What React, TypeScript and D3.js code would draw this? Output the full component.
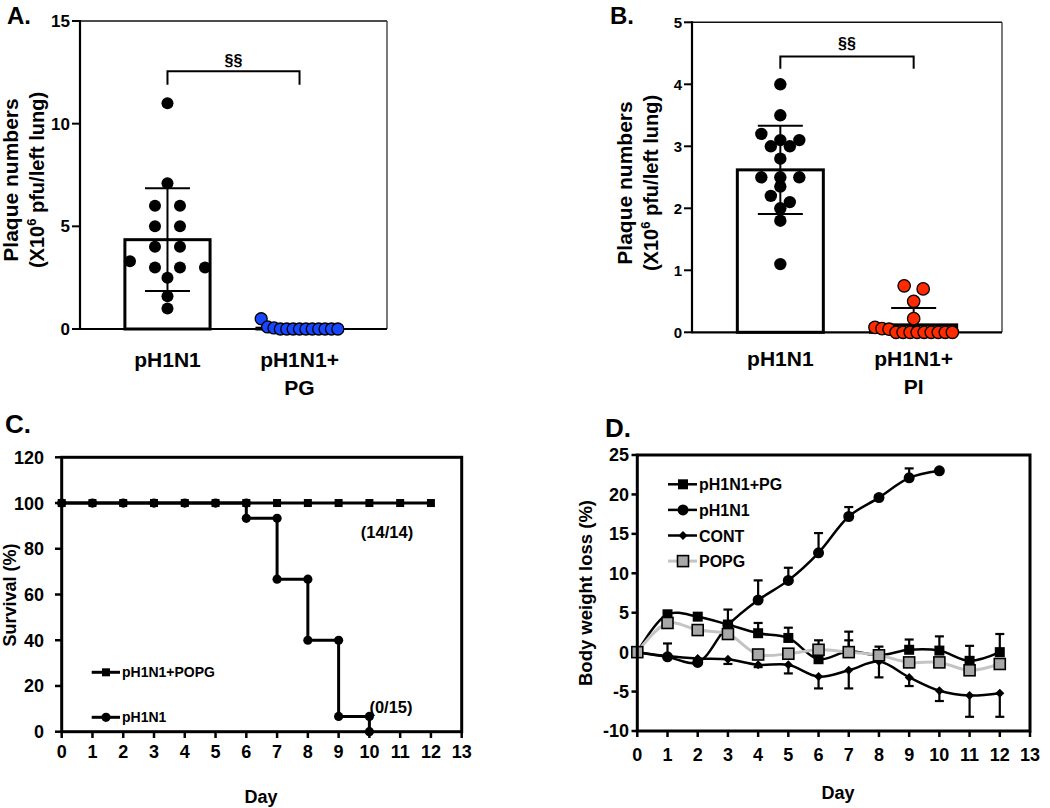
import React from 'react';
import * as d3 from 'd3';

const FONT = '"Liberation Sans", Arial, Helvetica, sans-serif';

// ---- Panel A: lung plaque numbers, PG treatment ----
const labelsA = ['pH1N1', 'pH1N1+\nPG'];
const dotsA_H1N1 = [11, 7.1, 6, 6, 5, 5, 4, 4, 3.3, 3, 3, 3, 2.5, 1.6, 1.0];
const dotsA_PG = [0.5, 0.1, 0.05, 0, 0, 0, 0, 0, 0, 0, 0, 0, 0];
const meanA = [4.35, 0.04];
const sdA = [2.5, 0.15];
const ticksA = [0, 5, 10, 15];

// ---- Panel B: lung plaque numbers, PI treatment ----
const labelsB = ['pH1N1', 'pH1N1+\nPI'];
const dotsB_H1N1 = [4.0, 3.5, 3.2, 3.1, 3.1, 3.0, 3.0, 2.8, 2.5, 2.5, 2.5, 2.35, 2.2, 2.1, 2.0, 1.8, 1.1];
const dotsB_PI = [0.75, 0.7, 0.5, 0.22, 0.08, 0.06, 0.05, 0, 0, 0, 0, 0, 0, 0, 0, 0];
const meanB = [2.62, 0.12];
const sdB = [0.71, 0.27];
const ticksB = [0, 1, 2, 3, 4, 5];

// ---- Panel C: survival ----
const dayTicks = [0, 1, 2, 3, 4, 5, 6, 7, 8, 9, 10, 11, 12, 13];
const survDaysPOPG = [0, 1, 2, 3, 4, 5, 6, 7, 8, 9, 10, 11, 12];
const survPOPG = [100, 100, 100, 100, 100, 100, 100, 100, 100, 100, 100, 100, 100];
const survDaysH1N1 = [0, 1, 2, 3, 4, 5, 6, 7, 8, 9, 10];
const survH1N1 = [100, 100, 100, 100, 100, 100, 93.3, 66.7, 40, 6.7, 0];
const survTicks = [0, 20, 40, 60, 80, 100, 120];

// ---- Panel D: body weight loss ----
const wDays = [0, 1, 2, 3, 4, 5, 6, 7, 8, 9, 10, 11, 12];
const wPG = [0, 4.8, 4.5, 3.5, 2.4, 1.8, -0.9, 0.1, -0.4, 0.3, 0.2, -1.1, 0.0];
const ePG = [0, 0.3, 0.4, 1.9, 1.3, 1.3, 2.4, 2.5, 1.1, 1.3, 1.8, 1.9, 2.3];
const wDaysH1N1 = [0, 1, 2, 3, 4, 5, 6, 7, 8, 9, 10];
const wH1N1 = [0, -0.6, -1.3, 3.4, 6.6, 9.1, 12.6, 17.2, 19.6, 22.1, 23.0];
const eH1N1 = [0, 1.7, 0.3, 0.5, 2.5, 1.6, 2.5, 1.2, 0.3, 1.2, 0];
const wCONT = [0, -0.5, -0.8, -0.9, -1.6, -1.6, -3.1, -2.3, -1.2, -3.2, -4.9, -5.5, -5.2];
const eCONT = [0, 0.2, 0.3, 0.6, 0.3, 1.1, 1.5, 2.3, 2.0, 1.1, 1.3, 2.7, 3.0];
const wPOPG = [0, 3.7, 2.8, 2.3, -0.3, -0.2, 0.3, 0.0, -0.4, -1.3, -1.3, -2.3, -1.5];
const ePOPG = [0, 0, 0, 0, 0, 0, 0, 1.5, 0, 0, 0, 0, 0];
const weightTicks = [-10, -5, 0, 5, 10, 15, 20, 25];

// simple Prism-like column scatter: rows of close values are spread around the centre
function swarm(values: number[], y: (v: number) => number, binPx: number, step: number, maxHalf: number) {
  const sorted = [...values].sort((a, b) => b - a);
  const rows: number[][] = [];
  sorted.forEach(v => {
    const row = rows[rows.length - 1];
    if (row && y(v) - y(row[0]) <= binPx) row.push(v);
    else rows.push([v]);
  });
  const out: { v: number; dx: number }[] = [];
  rows.forEach(row => {
    const n = row.length;
    const sp = n > 1 ? Math.min(step, (2 * maxHalf) / (n - 1)) : 0;
    row.forEach((v, i) => out.push({ v, dx: (i - (n - 1) / 2) * sp }));
  });
  return out;
}

interface Group { label: string; values: number[]; mean: number; sd: number; fill: string; stroke: string }

interface DotBarProps {
  left: number; right: number; top: number; bottom: number; max: number;
  ticks: number[]; tickSize: number; groups: Group[];
  binPx: number; step: number; r: number;
  bracket: [number, number]; sectionY: number;
  yl1: number; yl2: number; ylMid: number;
  catY: number; letter: string; letterX: number;
}

const DotBarPanel: React.FC<DotBarProps> = p => {
  const y = d3.scaleLinear().domain([0, p.max]).range([p.bottom, p.top]);
  const x = d3.scaleBand<string>().domain(p.groups.map(g => g.label))
    .range([p.left, p.right]).paddingInner(0.355).paddingOuter(0.34);
  const bw = x.bandwidth();
  const cx = (g: Group) => (x(g.label) as number) + bw / 2;
  const c0 = cx(p.groups[0]);
  const c1 = cx(p.groups[1]);
  return (
    <g>
      <text x={p.letterX} y={24} fontSize={24} fontWeight="bold">{p.letter}</text>
      {/* frame */}
      <line x1={p.left} x2={p.right} y1={p.top} y2={p.top} stroke="#111" strokeWidth={1.5} />
      <line x1={p.right} x2={p.right} y1={p.top} y2={p.bottom} stroke="#333" strokeWidth={1.3} />
      {/* bars */}
      {p.groups.map(g => (
        <rect key={g.label} x={x(g.label)} y={y(g.mean)} width={bw} height={p.bottom - y(g.mean)}
          fill="white" stroke="black" strokeWidth={3} />
      ))}
      {/* error bars */}
      {p.groups.map(g => {
        const c = cx(g);
        const lo = Math.max(0, g.mean - g.sd);
        return (
          <g key={g.label} stroke="black" strokeWidth={2}>
            <line x1={c} x2={c} y1={y(g.mean + g.sd)} y2={y(lo)} />
            <line x1={c - 22.5} x2={c + 22.5} y1={y(g.mean + g.sd)} y2={y(g.mean + g.sd)} />
            {g.mean - g.sd > 0 && <line x1={c - 22.5} x2={c + 22.5} y1={y(lo)} y2={y(lo)} />}
          </g>
        );
      })}
      {/* axes */}
      <line x1={p.left} x2={p.right} y1={p.bottom} y2={p.bottom} stroke="black" strokeWidth={2.2} />
      <line x1={p.left} x2={p.left} y1={p.top - 1} y2={p.bottom + 1} stroke="black" strokeWidth={2.2} />
      {p.ticks.map(t => (
        <g key={t}>
          <line x1={p.left - 8} x2={p.left} y1={y(t)} y2={y(t)} stroke="black" strokeWidth={2} />
          <text x={p.left - 10} y={y(t)} dy="0.36em" textAnchor="end" fontSize={p.tickSize} fontWeight="bold">{t}</text>
        </g>
      ))}
      {/* dots */}
      {p.groups.map(g => {
        const c = cx(g);
        return swarm(g.values, y, p.binPx, p.step, bw * 0.45).map((d, i) => (
          <circle key={g.label + i} cx={c + d.dx} cy={y(d.v)} r={p.r} fill={g.fill}
            stroke={g.stroke} strokeWidth={g.stroke === 'none' ? 0 : 1.3} />
        ));
      })}
      {/* significance bracket */}
      <path d={`M${c0},${y(p.bracket[1])}V${y(p.bracket[0])}H${c1}V${y(p.bracket[1])}`}
        fill="none" stroke="black" strokeWidth={2} />
      <text x={(c0 + c1) / 2} y={p.sectionY} textAnchor="middle" fontSize={16} fontWeight="bold">§§</text>
      {/* category labels */}
      {p.groups.map(g => (
        <text key={g.label} x={cx(g)} y={p.catY} textAnchor="middle" fontSize={21} fontWeight="bold">
          {g.label.split('\n').map((s, i) => (
            <tspan key={i} x={cx(g)} dy={i === 0 ? 0 : 28}>{s}</tspan>
          ))}
        </text>
      ))}
      {/* y label */}
      <text transform={`translate(${p.yl1},${p.ylMid}) rotate(-90)`} textAnchor="middle" fontSize={21} fontWeight="bold">
        Plaque numbers
      </text>
      <text transform={`translate(${p.yl2},${p.ylMid}) rotate(-90)`} textAnchor="middle" fontSize={20} fontWeight="bold">
        <tspan>(X10</tspan>
        <tspan fontSize={13} dy={-8}>6</tspan>
        <tspan dy={8}> pfu/left lung)</tspan>
      </text>
    </g>
  );
};

const App: React.FC = () => {
  // ---- panel C scales ----
  const xC = d3.scaleLinear().domain([0, 13]).range([61.7, 461.7]);
  const yC = d3.scaleLinear().domain([0, 120]).range([731.7, 457.3]);
  const popgPts = survDaysPOPG.map((d, i) => [d, survPOPG[i]] as [number, number]);
  const h1n1Pts = survDaysH1N1.map((d, i) => [d, survH1N1[i]] as [number, number]);
  const stepLine = d3.line<[number, number]>().x(d => xC(d[0])).y(d => yC(d[1])).curve(d3.curveStepAfter);
  const straight = d3.line<[number, number]>().x(d => xC(d[0])).y(d => yC(d[1]));
  // markers at both ends of each drop
  const h1n1Marks: [number, number][] = [];
  h1n1Pts.forEach((pt, i) => {
    h1n1Marks.push(pt);
    if (i > 0 && h1n1Pts[i - 1][1] !== pt[1]) h1n1Marks.push([pt[0], h1n1Pts[i - 1][1]]);
  });

  // ---- panel D scales ----
  const xD = d3.scaleLinear().domain([0, 13]).range([637.3, 1030]);
  const yD = d3.scaleLinear().domain([-10, 25]).range([731, 455]);
  const smooth = d3.line<[number, number]>().x(d => xD(d[0])).y(d => yD(d[1])).curve(d3.curveCatmullRom.alpha(0.5));
  const series = [
    { name: 'pH1N1+PG', days: wDays, v: wPG, e: ePG, dir: 1, color: 'black', lw: 2.5, mark: 'sq' },
    { name: 'pH1N1', days: wDaysH1N1, v: wH1N1, e: eH1N1, dir: 1, color: 'black', lw: 2.5, mark: 'circle' },
    { name: 'CONT', days: wDays, v: wCONT, e: eCONT, dir: -1, color: 'black', lw: 2.5, mark: 'diamond' },
    { name: 'POPG', days: wDays, v: wPOPG, e: ePOPG, dir: 1, color: '#c4c4c4', lw: 3, mark: 'graysq' },
  ];
  const marker = (kind: string, x: number, y: number, key: string) => {
    if (kind === 'sq') return <rect key={key} x={x - 5} y={y - 5} width={10} height={10} fill="black" />;
    if (kind === 'circle') return <circle key={key} cx={x} cy={y} r={5.5} fill="black" />;
    if (kind === 'diamond') return <path key={key} d={`M${x},${y - 4.5}L${x + 4.5},${y}L${x},${y + 4.5}L${x - 4.5},${y}Z`} fill="black" />;
    return <rect key={key} x={x - 5.5} y={y - 5.5} width={11} height={11} fill="#a8a8a8" stroke="black" strokeWidth={1.6} />;
  };

  return (
    <div style={{ position: 'absolute', left: 0, top: 0 }}>
      <svg width={1050} height={808} style={{ display: 'block', fontFamily: FONT, background: 'white' }}>
        <DotBarPanel left={80} right={387} top={21} bottom={329} max={15} ticks={ticksA} tickSize={17}
          groups={[
            { label: labelsA[0], values: dotsA_H1N1, mean: meanA[0], sd: sdA[0], fill: 'black', stroke: 'none' },
            { label: labelsA[1], values: dotsA_PG, mean: meanA[1], sd: sdA[1], fill: '#1747ff', stroke: 'black' },
          ]}
          binPx={12} step={25} r={6} bracket={[12.55, 11.9]} sectionY={66}
          yl1={18} yl2={44} ylMid={180} catY={367} letter="A." letterX={7} />
        <DotBarPanel left={692} right={1002} top={22.3} bottom={332.3} max={5} ticks={ticksB} tickSize={15}
          groups={[
            { label: labelsB[0], values: dotsB_H1N1, mean: meanB[0], sd: sdB[0], fill: 'black', stroke: 'none' },
            { label: labelsB[1], values: dotsB_PI, mean: meanB[1], sd: sdB[1], fill: '#ff2a00', stroke: 'black' },
          ]}
          binPx={8} step={19} r={6.2} bracket={[4.45, 4.25]} sectionY={49}
          yl1={632} yl2={658} ylMid={183} catY={366} letter="B." letterX={610} />

        {/* ---------- Panel C ---------- */}
        <g>
          <text x={5} y={433} fontSize={26} fontWeight="bold">C.</text>
          {survTicks.map(t => (
            <g key={t}>
              <line x1={55} x2={61.7} y1={yC(t)} y2={yC(t)} stroke="black" strokeWidth={2.5} />
              <text x={44} y={yC(t)} dy="0.36em" textAnchor="end" fontSize={18} fontWeight="bold">{t}</text>
            </g>
          ))}
          {dayTicks.map(t => (
            <g key={t}>
              <line x1={xC(t)} x2={xC(t)} y1={731.7} y2={738} stroke="black" strokeWidth={2.5} />
              <text x={xC(t)} y={758} textAnchor="middle" fontSize={18} fontWeight="bold">{t}</text>
            </g>
          ))}
          <path d={stepLine(h1n1Pts) || ''} fill="none" stroke="black" strokeWidth={3} />
          <path d={straight(popgPts) || ''} fill="none" stroke="black" strokeWidth={3} />
          {h1n1Marks.map((d, i) => <circle key={i} cx={xC(d[0])} cy={yC(d[1])} r={4.6} fill="black" />)}
          {popgPts.map((d, i) => <rect key={i} x={xC(d[0]) - 4} y={yC(d[1]) - 4} width={8} height={8} fill="black" />)}
          <rect x={61.7} y={457.3} width={400} height={274.4} fill="none" stroke="black" strokeWidth={3} />
          <text x={387} y={537.5} textAnchor="middle" fontSize={16.5} fontWeight="bold">(14/14)</text>
          <text x={391} y={712.5} textAnchor="middle" fontSize={16.5} fontWeight="bold">(0/15)</text>
          {/* legend */}
          <line x1={91.7} x2={120} y1={672.3} y2={672.3} stroke="black" strokeWidth={3} />
          <rect x={102} y={668.3} width={8} height={8} fill="black" />
          <text x={122} y={677.3} fontSize={14} fontWeight="bold">pH1N1+POPG</text>
          <line x1={91.7} x2={120} y1={717.3} y2={717.3} stroke="black" strokeWidth={3} />
          <circle cx={106} cy={717.3} r={4.6} fill="black" />
          <text x={122} y={722.3} fontSize={14} fontWeight="bold">pH1N1</text>
          <text transform="translate(16,595) rotate(-90)" textAnchor="middle" fontSize={18} fontWeight="bold">Survival (%)</text>
          <text x={261} y={803} textAnchor="middle" fontSize={18} fontWeight="bold">Day</text>
        </g>

        {/* ---------- Panel D ---------- */}
        <g>
          <text x={605} y={437} fontSize={26} fontWeight="bold">D.</text>
          {weightTicks.map(t => (
            <g key={t}>
              <line x1={631.5} x2={637.3} y1={yD(t)} y2={yD(t)} stroke="black" strokeWidth={2.5} />
              <text x={629} y={yD(t)} dy="0.36em" textAnchor="end" fontSize={18} fontWeight="bold">{t}</text>
            </g>
          ))}
          {dayTicks.map(t => (
            <g key={t}>
              <line x1={xD(t)} x2={xD(t)} y1={731} y2={737} stroke="black" strokeWidth={2.5} />
              <text x={xD(t)} y={761} textAnchor="middle" fontSize={18} fontWeight="bold">{t}</text>
            </g>
          ))}
          {series.map(s => (
            <g key={s.name}>
              {s.days.map((d, i) => s.e[i] > 0.15 && (
                <g key={i} stroke="black" strokeWidth={2.2}>
                  <line x1={xD(d)} x2={xD(d)} y1={yD(s.v[i])} y2={yD(s.v[i] + s.dir * s.e[i])} />
                  <line x1={xD(d) - 4.5} x2={xD(d) + 4.5} y1={yD(s.v[i] + s.dir * s.e[i])} y2={yD(s.v[i] + s.dir * s.e[i])} />
                </g>
              ))}
              <path d={smooth(s.days.map((d, i) => [d, s.v[i]] as [number, number])) || ''}
                fill="none" stroke={s.color} strokeWidth={s.lw} />
              {s.days.map((d, i) => marker(s.mark, xD(d), yD(s.v[i]), s.name + i))}
            </g>
          ))}
          <rect x={637.3} y={455} width={392.7} height={276} fill="none" stroke="black" strokeWidth={3} />
          {series.map((s, i) => {
            const ly = 484.3 + i * 25.6;
            return (
              <g key={s.name}>
                <line x1={668} x2={697} y1={ly} y2={ly} stroke={s.color} strokeWidth={s.lw} />
                {marker(s.mark, 683, ly, 'leg' + i)}
                <text x={699} y={ly + 6} fontSize={16} fontWeight="bold">{s.name}</text>
              </g>
            );
          })}
          <text transform="translate(592,593) rotate(-90)" textAnchor="middle" fontSize={18.5} fontWeight="bold">Body weight loss (%)</text>
          <text x={838} y={799} textAnchor="middle" fontSize={18} fontWeight="bold">Day</text>
        </g>
      </svg>
    </div>
  );
};

export default App;
